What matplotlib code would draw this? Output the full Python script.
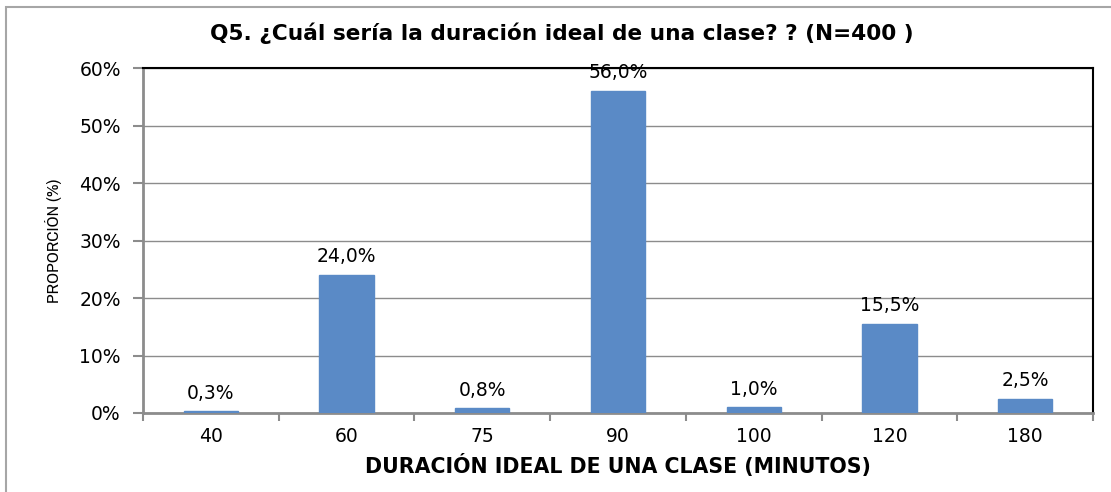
import matplotlib
matplotlib.use("Agg")
import matplotlib.pyplot as plt
from matplotlib.patches import Rectangle
from matplotlib.ticker import FuncFormatter, MultipleLocator, FixedLocator
from matplotlib import font_manager

categories = ["40", "60", "75", "90", "100", "120", "180"]
values = [0.3, 24.0, 0.8, 56.0, 1.0, 15.5, 2.5]
labels = ["0,3%", "24,0%", "0,8%", "56,0%", "1,0%", "15,5%", "2,5%"]

# pick a narrow font for the y label if one is installed
narrow = [f.name for f in font_manager.fontManager.ttflist
          if "Narrow" in f.name or "Condensed" in f.name]
ylab_family = [narrow[0], "DejaVu Sans"] if narrow else ["DejaVu Sans"]

W, H = 1111, 492
fig = plt.figure(figsize=(W / 100, H / 100), dpi=100)
fig.patch.set_facecolor("white")

# outer chart border
fig.add_artist(Rectangle((6 / W, -0.05), 1.2, (1 - 7 / H) + 0.05, transform=fig.transFigure,
                         fill=False, edgecolor="#a6a6a6", linewidth=1.5))

left, right, top, bottom = 143, 1093, 68, 413
ax = fig.add_axes([left / W, 1 - bottom / H, (right - left) / W, (bottom - top) / H])

x = list(range(len(categories)))
ax.bar(x, values, width=0.4, color="#5a8ac6", edgecolor="#5a8ac6", zorder=3)
ax.set_xlim(-0.5, len(categories) - 0.5)
ax.set_ylim(0, 60)

ax.yaxis.set_major_locator(MultipleLocator(10))
ax.yaxis.set_major_formatter(FuncFormatter(lambda v, p: f"{int(v)}%"))
ax.grid(axis="y", color="#8c8c8c", linewidth=1.0, zorder=0)
ax.set_xticks(x)
ax.set_xticklabels(categories)
ax.xaxis.set_minor_locator(FixedLocator([i - 0.5 for i in range(len(categories) + 1)]))
ax.tick_params(axis="x", which="major", length=0, pad=10, labelsize=13.5, colors="#000000")
ax.tick_params(axis="x", which="minor", length=6, width=1.5, color="#8c8c8c", direction="out")
ax.tick_params(axis="y", length=7, width=1.5, color="#8c8c8c", labelsize=13.5, pad=9)

for s in ["left", "bottom"]:
    ax.spines[s].set_color("#8c8c8c")
    ax.spines[s].set_linewidth(2)
for s in ["top", "right"]:
    ax.spines[s].set_color("black")
    ax.spines[s].set_linewidth(1.5)

for xi, v, lab in zip(x, values, labels):
    ax.text(xi, v + 1.5, lab, ha="center", va="bottom", fontsize=13.5, zorder=4)

ax.set_xlabel("DURACIÓN IDEAL DE UNA CLASE (MINUTOS)", fontsize=14.8, fontweight="bold", labelpad=6)
ax.set_ylabel("PROPORCIÓN (%)", fontsize=12.5, family=ylab_family, fontstretch="condensed",
              fontweight="bold", labelpad=12)

fig.text(562 / W, 1 - 33 / H, "Q5. ¿Cuál sería la duración ideal de una clase? ? (N=400 )",
         ha="center", va="center", fontsize=15.6, fontweight="bold")

fig.savefig("out.png", dpi=100)
